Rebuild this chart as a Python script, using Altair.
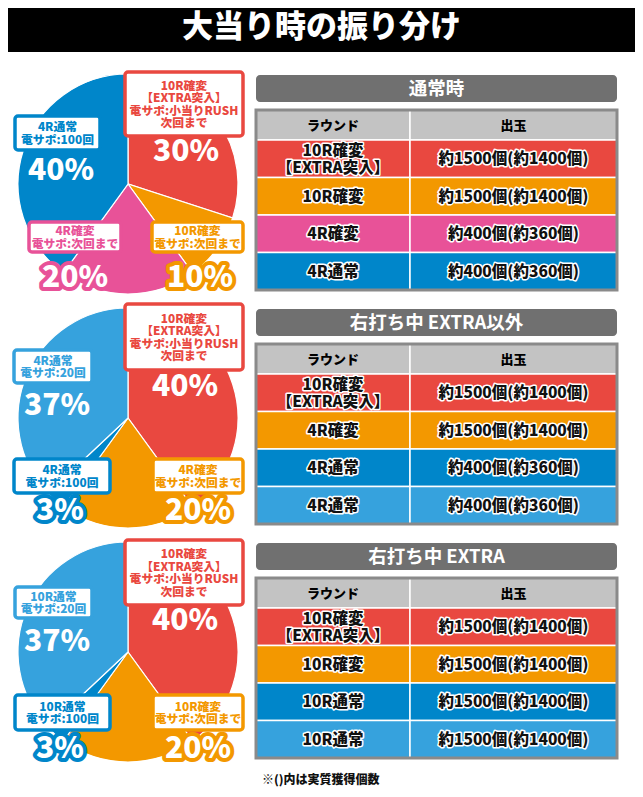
import altair as alt
import pandas as pd

# ---------------- data ----------------
TITLE = "大当り時の振り分け"
SECTION_TITLES = ["通常時", "右打ち中 EXTRA以外", "右打ち中 EXTRA"]
NOTE = "※()内は実質獲得個数"

PIE_SHARES = [
    [30, 10, 20, 40],
    [40, 20, 3, 37],
    [40, 20, 3, 37],
]
PIE_KINDS = [
    ["red", "orange", "pink", "blue"],
    ["red", "orange", "blue", "sky"],
    ["red", "orange", "blue", "sky"],
]
RUSH = "10R確変\n【EXTRA突入】\n電サポ:小当りRUSH\n次回まで"
PIE_LABELS = [
    [RUSH, "10R確変\n電サポ:次回まで", "4R確変\n電サポ:次回まで", "4R通常\n電サポ:100回"],
    [RUSH, "4R確変\n電サポ:次回まで", "4R通常\n電サポ:100回", "4R通常\n電サポ:20回"],
    [RUSH, "10R確変\n電サポ:次回まで", "10R通常\n電サポ:100回", "10R通常\n電サポ:20回"],
]
TABLE_HEADER = ["ラウンド", "出玉"]
TABLE_ROUNDS = [
    ["10R確変\n【EXTRA突入】", "10R確変", "4R確変", "4R通常"],
    ["10R確変\n【EXTRA突入】", "4R確変", "4R通常", "4R通常"],
    ["10R確変\n【EXTRA突入】", "10R確変", "10R通常", "10R通常"],
]
TABLE_PAYOUTS = [
    ["約1500個(約1400個)", "約1500個(約1400個)", "約400個(約360個)", "約400個(約360個)"],
    ["約1500個(約1400個)", "約1500個(約1400個)", "約400個(約360個)", "約400個(約360個)"],
    ["約1500個(約1400個)", "約1500個(約1400個)", "約1500個(約1400個)", "約1500個(約1400個)"],
]
TABLE_KINDS = [
    ["red", "orange", "pink", "blue"],
    ["red", "orange", "blue", "sky"],
    ["red", "orange", "blue", "sky"],
]

# ---------------- styles / layout ----------------
COLORS = {"red": "#e94840", "orange": "#f39800", "pink": "#e85298",
          "blue": "#0086ca", "sky": "#36a2dd"}
FONT = "Noto Sans CJK JP"

PIE_CENTERS = [(128, 184), (128, 418), (128, 652)]
PIE_R = 110
BOXES = [
    [(125, 243, 72, 136), (152, 243, 222, 252), (29, 121, 222, 252), (15, 100, 116, 150)],
    [(125, 243, 304, 370), (153, 243, 459, 493), (14, 110, 459, 493), (14, 92, 350, 383)],
    [(125, 243, 540, 605), (153, 243, 695, 730), (15, 110, 695, 730), (15, 92, 587, 618)],
]
PCT_POS = [
    [(186, 152), (200, 278), (75, 278), (61, 171)],
    [(185, 387), (198, 511), (60, 511), (57, 406)],
    [(185, 621), (198, 749), (60, 749), (57, 642)],
]
BOX_LH = 12.6
CELL_LH = 16.5
TBL_X = (256, 410, 617)
BAR_TOPS = [75, 309, 543]
BAR_H = 27
TBL_TOPS = [110, 344, 578]
HEAD_H = 30
ROW_H = 37.5

XS = alt.Scale(domain=[8, 635], range=[0, 627], zero=False, nice=False)
YS = alt.Scale(domain=[8, 789], range=[0, 781], zero=False, nice=False)
TS = alt.Scale(domain=[0, 100], range=[0, 6.283185307179586], zero=False, nice=False)


def X(f):
    return alt.X(f + ":Q", scale=XS, axis=None)


def Y(f):
    return alt.Y(f + ":Q", scale=YS, axis=None)


def first_line_y(center, text, lh):
    # Vega places the first line of a multi-line text at y; centre the block
    n = text.count("\n") + 1
    return center - (n - 1) * lh / 2


# ---------------- tables built from the lists ----------------
frame_df = pd.DataFrame([{"x1": 0, "x2": 643, "y1": 0, "y2": 797, "fill": "#000000"}])
inner_df = pd.DataFrame([{"x1": 4, "x2": 639, "y1": 52, "y2": 793, "fill": "#ffffff"}])
title_df = pd.DataFrame([{"x": 321.5, "y": 28, "text": TITLE}])

arc_rows, box_rows, pct_rows = [], [], []
for p, shares in enumerate(PIE_SHARES):
    cx, cy = PIE_CENTERS[p]
    start = 0
    for i, s in enumerate(shares):
        col = COLORS[PIE_KINDS[p][i]]
        arc_rows.append({"cx": cx, "cy": cy, "t0": start, "t1": start + s, "col": col})
        start += s
        x1, x2, y1, y2 = BOXES[p][i]
        label = PIE_LABELS[p][i]
        box_rows.append({"x1": x1, "x2": x2, "y1": y1, "y2": y2,
                         "xm": (x1 + x2) / 2,
                         "ym": first_line_y((y1 + y2) / 2 + 0.5, label, BOX_LH),
                         "text": label, "col": col})
        px, py = PCT_POS[p][i]
        pct_rows.append({"x": px, "y": py, "text": f"{s}%", "col": col})
arc_df = pd.DataFrame(arc_rows)
box_df = pd.DataFrame(box_rows)
pct_df = pd.DataFrame(pct_rows)

bar_rows, cell_rows, head_txt, cell_txt, border_rows = [], [], [], [], []
xa, xm, xb = TBL_X
for t in range(3):
    bar_rows.append({"x1": xa, "x2": xb, "y1": BAR_TOPS[t], "y2": BAR_TOPS[t] + BAR_H,
                     "x": (xa + xb) / 2, "y": BAR_TOPS[t] + BAR_H / 2 + 0.5,
                     "text": SECTION_TITLES[t]})
    top = TBL_TOPS[t]
    for c, (c1, c2) in enumerate([(xa, xm), (xm, xb)]):
        cell_rows.append({"x1": c1, "x2": c2, "y1": top, "y2": top + HEAD_H, "col": "#c3c3c3"})
        head_txt.append({"x": (c1 + c2) / 2, "y": top + HEAD_H / 2 + 0.5, "text": TABLE_HEADER[c]})
    for r in range(4):
        y1 = top + HEAD_H + r * ROW_H
        y2 = y1 + ROW_H
        col = COLORS[TABLE_KINDS[t][r]]
        for c, (c1, c2) in enumerate([(xa, xm), (xm, xb)]):
            cell_rows.append({"x1": c1, "x2": c2, "y1": y1, "y2": y2, "col": col})
            txt = TABLE_ROUNDS[t][r] if c == 0 else TABLE_PAYOUTS[t][r]
            cell_txt.append({"x": (c1 + c2) / 2,
                             "y": first_line_y((y1 + y2) / 2 + 0.5, txt, CELL_LH),
                             "text": txt})
    border_rows.append({"x1": xa, "x2": xb, "y1": top, "y2": top + HEAD_H + 4 * ROW_H})
bar_df = pd.DataFrame(bar_rows)
cell_df = pd.DataFrame(cell_rows)
head_df = pd.DataFrame(head_txt)
celltxt_df = pd.DataFrame(cell_txt)
border_df = pd.DataFrame(border_rows)
note_df = pd.DataFrame([{"x": 262, "y": 780, "text": NOTE}])

# ---------------- layers ----------------
frame = alt.Chart(frame_df).mark_rect(cornerRadius=16).encode(
    x=X("x1"), x2="x2", y=Y("y1"), y2="y2", fill=alt.Fill("fill:N", scale=None))
inner = alt.Chart(inner_df).mark_rect(cornerRadiusBottomLeft=12, cornerRadiusBottomRight=12).encode(
    x=X("x1"), x2="x2", y=Y("y1"), y2="y2", fill=alt.Fill("fill:N", scale=None))
title = alt.Chart(title_df).mark_text(font=FONT, fontSize=31, fontWeight=900,
                                      color="white", baseline="middle").encode(
    x=X("x"), y=Y("y"), text="text:N")

pies = alt.Chart(arc_df).mark_arc(radius=PIE_R, stroke="white", strokeWidth=1.2).encode(
    x=X("cx"), y=Y("cy"),
    theta=alt.Theta("t0:Q", scale=TS, stack=None), theta2=alt.Theta2("t1:Q"),
    fill=alt.Fill("col:N", scale=None))

boxes = alt.Chart(box_df).mark_rect(fill="white", strokeWidth=3.5, cornerRadius=3).encode(
    x=X("x1"), x2="x2", y=Y("y1"), y2="y2", stroke=alt.Stroke("col:N", scale=None))
box_text = alt.Chart(box_df).mark_text(font=FONT, fontSize=11.8, fontWeight=900,
                                       lineBreak="\n", lineHeight=BOX_LH,
                                       baseline="middle").encode(
    x=X("xm"), y=Y("ym"), text="text:N", fill=alt.Fill("col:N", scale=None))

pct_outline = alt.Chart(pct_df).mark_text(font=FONT, fontSize=30, fontWeight=900,
                                          baseline="middle", strokeWidth=8,
                                          strokeJoin="round").encode(
    x=X("x"), y=Y("y"), text="text:N",
    fill=alt.Fill("col:N", scale=None), stroke=alt.Stroke("col:N", scale=None))
pct_text = alt.Chart(pct_df).mark_text(font=FONT, fontSize=30, fontWeight=900,
                                       baseline="middle", color="white").encode(
    x=X("x"), y=Y("y"), text="text:N")

bars = alt.Chart(bar_df).mark_rect(fill="#707070", cornerRadius=4).encode(
    x=X("x1"), x2="x2", y=Y("y1"), y2="y2")
bar_text = alt.Chart(bar_df).mark_text(font=FONT, fontSize=18.5, fontWeight="bold",
                                       color="white", baseline="middle").encode(
    x=X("x"), y=Y("y"), text="text:N")

cells = alt.Chart(cell_df).mark_rect(stroke="white", strokeWidth=1.5).encode(
    x=X("x1"), x2="x2", y=Y("y1"), y2="y2", fill=alt.Fill("col:N", scale=None))
borders = alt.Chart(border_df).mark_rect(fillOpacity=0, stroke="#8a8a8a",
                                         strokeWidth=3).encode(
    x=X("x1"), x2="x2", y=Y("y1"), y2="y2")
head_text = alt.Chart(head_df).mark_text(font=FONT, fontSize=13, fontWeight=900,
                                         color="black", baseline="middle").encode(
    x=X("x"), y=Y("y"), text="text:N")
cell_halo = alt.Chart(celltxt_df).mark_text(font=FONT, fontSize=15.5, fontWeight=900,
                                            lineBreak="\n", lineHeight=CELL_LH,
                                            baseline="middle", color="white",
                                            stroke="white", strokeWidth=3,
                                            strokeJoin="round").encode(
    x=X("x"), y=Y("y"), text="text:N")
cell_text = alt.Chart(celltxt_df).mark_text(font=FONT, fontSize=15.5, fontWeight=900,
                                            lineBreak="\n", lineHeight=CELL_LH,
                                            baseline="middle", color="#111111").encode(
    x=X("x"), y=Y("y"), text="text:N")
note = alt.Chart(note_df).mark_text(font=FONT, fontSize=12, fontWeight=900,
                                    align="left", baseline="middle", color="#111111").encode(
    x=X("x"), y=Y("y"), text="text:N")

chart = alt.layer(
    frame, inner, title, pies, boxes, box_text, pct_outline, pct_text,
    bars, bar_text, cells, borders, head_text, cell_halo, cell_text, note,
).properties(
    width=627, height=781, padding=0,
    autosize=alt.AutoSizeParams(type="none"),
    background="white",
).configure_view(stroke=None)

chart.save("out.html", embed_options={"renderer": "svg", "actions": False})
